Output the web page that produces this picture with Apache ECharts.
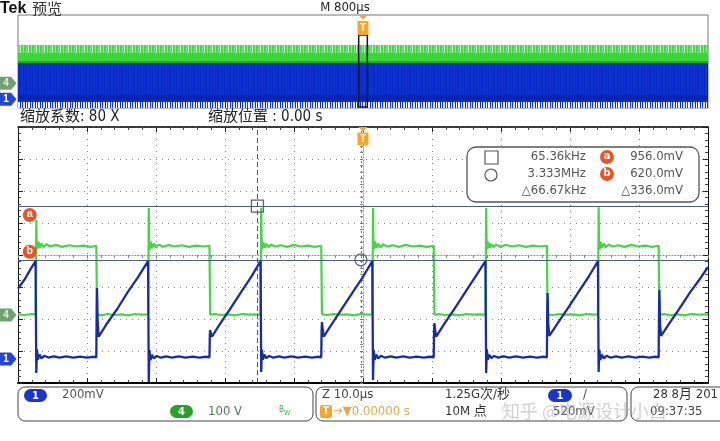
<!DOCTYPE html>
<html>
<head>
<meta charset="utf-8">
<script src="https://cdn.jsdelivr.net/npm/echarts/dist/echarts.min.js"></script>
<style>html,body{margin:0;padding:0;background:#fff}#c{width:720px;height:441px}</style>
</head>
<body>
<div id="c"></div>
<script>
// ---------------- DATA ----------------
// Channel 4 (green), volts, time in microseconds (zoomed view, 10 us/div)
const ch4Volts = [
 [-50, 2], [-49, 0], [-48, 3], [-47.45, 1],
 [-47.4, 120], [-47.35, 297], [-47.3, 236], [-47.2, 206], [-47.05, 230], [-46.85, 210], [-46.6, 224], [-46.3, 212], [-45.9, 221], [-45.3, 214], [-44.5, 219], [-43.6, 213], [-42.6, 218], [-41.5, 214], [-40.5, 217], [-39.5, 213], [-38.65, 216],
 [-38.6, 110], [-38.55, 2], [-38, -1], [-37, 3], [-36, 0], [-35, 2], [-34, -1], [-33, 3], [-32, 1], [-31.15, 2],
 [-31.1, 130], [-31.05, 334], [-31.0, 240], [-30.9, 204], [-30.75, 229], [-30.55, 209], [-30.3, 223], [-30.0, 211], [-29.6, 220], [-29.0, 213], [-28.2, 219], [-27.3, 214], [-26.3, 218], [-25.2, 213], [-24.2, 217], [-23.1, 214], [-22.25, 216],
 [-22.2, 100], [-22.15, 1], [-21.5, 3], [-20.5, 0], [-19.5, 2], [-18.5, -1], [-17.5, 3], [-16.5, 1], [-15.5, 2], [-14.85, 1],
 [-14.8, 140], [-14.75, 334], [-14.7, 238], [-14.6, 205], [-14.45, 228], [-14.25, 210], [-14.0, 222], [-13.7, 212], [-13.3, 220], [-12.7, 214], [-11.9, 218], [-11.0, 213], [-10.0, 219], [-9.0, 214], [-8.0, 217], [-7.0, 213], [-6.05, 216],
 [-6.0, 105], [-5.95, 2], [-5.3, 0], [-4.3, 3], [-3.3, 1], [-2.3, 2], [-1.3, -1], [-0.3, 3], [0.7, 1], [1.35, 2],
 [1.4, 130], [1.45, 334], [1.5, 241], [1.6, 206], [1.75, 230], [1.95, 209], [2.2, 223], [2.5, 211], [2.9, 221], [3.5, 214], [4.3, 218], [5.2, 213], [6.2, 219], [7.2, 214], [8.2, 217], [9.2, 213], [10.25, 216],
 [10.3, 100], [10.35, 1], [11, 3], [12, 0], [13, 2], [14, -1], [15, 3], [16, 1], [17, 2], [17.75, 1],
 [17.8, 140], [17.85, 334], [17.9, 237], [18.0, 205], [18.15, 229], [18.35, 210], [18.6, 222], [18.9, 212], [19.3, 220], [19.9, 213], [20.7, 219], [21.6, 214], [22.6, 218], [23.6, 213], [24.6, 217], [25.6, 214], [26.65, 216],
 [26.7, 105], [26.75, 2], [27.4, 0], [28.4, 3], [29.4, 1], [30.4, 2], [31.4, -1], [32.4, 3], [33.4, 1], [34.05, 2],
 [34.1, 135], [34.15, 337], [34.2, 239], [34.3, 205], [34.45, 228], [34.65, 210], [34.9, 223], [35.2, 212], [35.6, 220], [36.2, 214], [37.0, 218], [37.9, 213], [38.9, 219], [39.9, 214], [40.9, 217], [41.9, 213], [42.85, 216],
 [42.9, 100], [42.95, 1], [43.6, 3], [44.6, 0], [45.6, 2], [46.6, -1], [47.6, 3], [48.6, 1], [50, 2]
];
// Channel 1 (blue), millivolts
const ch1Millivolts = [
 [-50, 440], [-49, 500], [-48.2, 560], [-47.45, 612],
 [-47.4, 250], [-47.35, -87], [-47.25, 60], [-47.1, -5], [-46.9, 28], [-46.6, 4], [-46.2, 20], [-45.6, 9], [-44.8, 17], [-44.0, 8], [-43.0, 16], [-42.0, 9], [-41.0, 15], [-40.0, 8], [-39.2, 14], [-38.65, 11],
 [-38.6, 300], [-38.55, 444], [-38.45, 230], [-38.3, 140], [-37.1, 222], [-35.6, 314], [-34.1, 418], [-32.6, 512], [-31.15, 612],
 [-31.1, 250], [-31.05, -144], [-30.95, 55], [-30.8, -8], [-30.6, 26], [-30.3, 3], [-29.9, 19], [-29.3, 8], [-28.5, 17], [-27.7, 9], [-26.7, 16], [-25.7, 8], [-24.7, 15], [-23.7, 9], [-22.8, 14], [-22.25, 11],
 [-22.2, 150], [-22.15, 181], [-22.05, 160], [-21.9, 140], [-20.7, 221], [-19.2, 316], [-17.7, 417], [-16.2, 513], [-14.85, 612],
 [-14.8, 250], [-14.75, -81], [-14.65, 58], [-14.5, -4], [-14.3, 27], [-14.0, 5], [-13.6, 19], [-13.0, 9], [-12.2, 17], [-11.4, 8], [-10.4, 16], [-9.4, 9], [-8.4, 15], [-7.4, 8], [-6.6, 14], [-6.05, 11],
 [-6.0, 180], [-5.95, 231], [-5.85, 190], [-5.7, 140], [-4.5, 220], [-3.0, 318], [-1.5, 416], [0.0, 514], [1.35, 612],
 [1.4, 250], [1.45, -131], [1.55, 57], [1.7, -6], [1.9, 27], [2.2, 4], [2.6, 20], [3.2, 8], [4.0, 17], [4.8, 9], [5.8, 16], [6.8, 8], [7.8, 15], [8.8, 9], [9.7, 14], [10.25, 11],
 [10.3, 180], [10.35, 225], [10.45, 185], [10.6, 140], [11.8, 221], [13.3, 317], [14.8, 416], [16.3, 515], [17.75, 612],
 [17.8, 250], [17.85, -87], [17.95, 60], [18.1, -5], [18.3, 26], [18.6, 5], [19.0, 19], [19.6, 9], [20.4, 17], [21.2, 8], [22.2, 16], [23.2, 9], [24.2, 15], [25.2, 8], [26.1, 14], [26.65, 11],
 [26.7, 300], [26.75, 412], [26.85, 220], [27.0, 145], [28.2, 222], [29.7, 318], [31.2, 417], [32.7, 514], [34.05, 612],
 [34.1, 250], [34.15, -81], [34.25, 58], [34.4, -6], [34.6, 27], [34.9, 4], [35.3, 20], [35.9, 8], [36.7, 17], [37.5, 9], [38.5, 16], [39.5, 8], [40.5, 15], [41.5, 9], [42.3, 14], [42.85, 11],
 [42.9, 300], [42.95, 431], [43.05, 220], [43.2, 145], [44.4, 222], [45.9, 318], [47.4, 416], [48.9, 505], [50, 575]
];
// Cursors
const cursorTimesUs = [-15.3, -0.3];
const cursorLevelsMv = [956.0, 620.0];
// Overview (80x compressed record) envelope levels
const overviewGreenLevelsV = [330, 261, 192, 0];
const overviewBlueLevelsMv = [624, 74, -12, -46, -150];
const overviewSpanUs = [-4000, 4000];
const zoomWindowUs = [-50, 50];
const zoomWindowV = [-204, 415];
// Header / status bar texts
const headerTexts = { brand: 'Tek', mode: '预览', record: 'M 800µs', zoomFactor: '缩放系数: 80 X', zoomPos: '缩放位置 : 0.00 s' };
const statusTexts = { ch1: '200mV', ch4: '100 V', timebase: 'Z 10.0µs', trigPos: '→▼0.00000 s', rate: '1.25G次/秒', points: '10M 点', trigLevel: '520mV', date: '28 8月 201', time: '09:37:35' };

// ---------------- helpers ----------------
const narrow = "'Liberation Sans Narrow','DejaVu Sans Condensed','Noto Sans CJK SC',sans-serif";
const cjk = "'Noto Sans CJK SC',sans-serif";
function stripes(colors, widths) {
  const c = document.createElement('canvas');
  c.width = widths.reduce((a, b) => a + b, 0); c.height = 4;
  const g = c.getContext('2d'); let x = 0;
  colors.forEach((col, i) => { g.fillStyle = col; g.fillRect(x, 0, widths[i], 4); x += widths[i]; });
  return { image: c, repeat: 'repeat' };
}
const greenTopPat = stripes(['#3fdc3f', '#8fe48f', '#3fdc3f', '#cdf2cd', '#44d844', '#a6eaa6'], [2, 1, 1, 1, 2, 1]);
const bluePat = stripes(['#0c2fd2', '#0a28b8', '#0d33d8', '#0b2ac0'], [2, 1, 2, 1]);
const grassPat = stripes(['#0c2fd2', '#ffffff', '#1a3ad0', '#f0f3ff'], [1, 1, 1, 2]);
function fmtFreq(tUs) { const khz = 1000 / Math.abs(tUs); return khz >= 1000 ? (khz / 1000).toFixed(3) + 'MHz' : khz.toFixed(2) + 'kHz'; }

const tPath = 'path://M1,0 L11,0 L6,5 Z M0,6 L12,6 L12,20 L0,20 Z';
const tagPath = 'path://M0,0 L11,0 L16,6 L11,12 L0,12 Z';
function tMarker(coord, offY, h) {
  return { coord, symbol: tPath, symbolSize: [11, h], symbolOffset: [0, offY],
    itemStyle: { color: '#f0a830' },
    label: { show: true, formatter: 'T', color: '#fff3c0', fontSize: 10, fontWeight: 'bold', offset: [0, 3] } };
}
function chTag(coord, text, color, txtColor) {
  return { coord, symbol: tagPath, symbolSize: [17, 13], symbolOffset: [-10, 0],
    itemStyle: { color },
    label: { show: true, formatter: text, color: txtColor, fontSize: 10, fontWeight: 'bold', offset: [-2, 0] } };
}
function badge(coord, text, offY) {
  return { coord, symbol: 'circle', symbolSize: 14, symbolOffset: [0, offY],
    itemStyle: { color: '#e2582a' },
    label: { show: true, formatter: text, color: '#fff', fontSize: 11, fontWeight: 'bold', offset: [0, -1] } };
}
const hidden = { show: false };

const borderAxisCommon = {
  type: 'value', gridIndex: 1,
  axisLabel: hidden,
  axisTick: { show: true, inside: true, length: 5, lineStyle: { color: '#222' } },
  minorTick: { show: true, splitNumber: 5, length: 3, lineStyle: { color: '#444' } }
};

const option = {
  animation: false,
  backgroundColor: '#ffffff',
  grid: [
    { left: 18, top: 15, width: 690, height: 93, show: true, borderColor: '#777', borderWidth: 1 },
    { left: 18, top: 127, width: 690, height: 256 }
  ],
  xAxis: [
    { type: 'value', gridIndex: 0, min: overviewSpanUs[0], max: overviewSpanUs[1], show: false, axisLine: { onZero: false } },
    Object.assign({}, borderAxisCommon, { min: -50, max: 50, interval: 10, position: 'bottom',
      axisLine: { show: true, onZero: false, lineStyle: { color: '#000', width: 2 } },
      splitLine: { show: true, lineStyle: { color: '#8a8a8a', type: [1, 5], width: 1 } } }),
    Object.assign({}, borderAxisCommon, { min: -50, max: 50, interval: 10, position: 'top',
      axisLine: { show: true, onZero: false, lineStyle: { color: '#000', width: 1.5 } },
      splitLine: hidden }),
    { type: 'value', gridIndex: 1, min: -50, max: 50, interval: 10, position: 'bottom',
      axisLine: { show: true, onZero: true, onZeroAxisIndex: 4, lineStyle: { color: '#888', type: [1, 2] } },
      axisTick: { show: true, length: 3, lineStyle: { color: '#777' } },
      minorTick: { show: true, splitNumber: 5, length: 3, lineStyle: { color: '#888' } },
      axisLabel: hidden, splitLine: hidden }
  ],
  yAxis: [
    { type: 'value', gridIndex: 0, min: -212.5, max: 587.5, show: false, axisLine: { onZero: false } },
    { type: 'value', gridIndex: 0, min: -150, max: 1450, show: false, axisLine: { onZero: false } },
    { type: 'value', gridIndex: 1, min: -212.5, max: 587.5, show: false, axisLine: { onZero: false }, splitLine: hidden },
    { type: 'value', gridIndex: 1, min: -150, max: 1450, show: false, axisLine: { onZero: false }, splitLine: hidden },
    Object.assign({}, borderAxisCommon, { min: -4, max: 4, interval: 1, position: 'left',
      axisLine: { show: true, onZero: false, lineStyle: { color: '#111', width: 1 } },
      splitLine: { show: true, lineStyle: { color: '#8a8a8a', type: [1, 5], width: 1 } } }),
    Object.assign({}, borderAxisCommon, { min: -4, max: 4, interval: 1, position: 'right',
      axisLine: { show: true, onZero: false, lineStyle: { color: '#111', width: 1 } },
      splitLine: hidden }),
    { type: 'value', gridIndex: 1, min: -4, max: 4, interval: 1, position: 'left',
      axisLine: { show: true, onZero: true, onZeroAxisIndex: 1, lineStyle: { color: '#888', type: [1, 2] } },
      axisTick: { show: true, length: 3, lineStyle: { color: '#777' } },
      minorTick: { show: true, splitNumber: 5, length: 3, lineStyle: { color: '#888' } },
      axisLabel: hidden, splitLine: hidden }
  ],
  series: [
    // overview: green envelope
    { type: 'line', xAxisIndex: 0, yAxisIndex: 0, data: [], clip: false, silent: true,
      markArea: { silent: true, z: 1, data: [
        [{ xAxis: overviewSpanUs[0], yAxis: overviewGreenLevelsV[1], itemStyle: { color: greenTopPat } }, { xAxis: overviewSpanUs[1], yAxis: overviewGreenLevelsV[0] }],
        [{ xAxis: overviewSpanUs[0], yAxis: overviewGreenLevelsV[2], itemStyle: { color: '#3ad63a' } }, { xAxis: overviewSpanUs[1], yAxis: overviewGreenLevelsV[1] }],
        [{ xAxis: overviewSpanUs[0], yAxis: overviewGreenLevelsV[3], itemStyle: { color: '#28a628' } }, { xAxis: overviewSpanUs[1], yAxis: overviewGreenLevelsV[2] }]
      ] },
      markPoint: { silent: true, z: 6, data: [chTag([overviewSpanUs[0], 0], '4', '#72a072', '#dfeedf')] } },
    // overview: blue envelope
    { type: 'line', xAxisIndex: 0, yAxisIndex: 1, data: [], clip: false, silent: true,
      markArea: { silent: true, z: 2, data: [
        [{ xAxis: overviewSpanUs[0], yAxis: overviewBlueLevelsMv[1], itemStyle: { color: bluePat } }, { xAxis: overviewSpanUs[1], yAxis: overviewBlueLevelsMv[0] }],
        [{ xAxis: overviewSpanUs[0], yAxis: overviewBlueLevelsMv[2], itemStyle: { color: '#0a24ac' } }, { xAxis: overviewSpanUs[1], yAxis: overviewBlueLevelsMv[1] }],
        [{ xAxis: overviewSpanUs[0], yAxis: overviewBlueLevelsMv[3], itemStyle: { color: '#0c2fd2' } }, { xAxis: overviewSpanUs[1], yAxis: overviewBlueLevelsMv[2] }],
        [{ xAxis: overviewSpanUs[0], yAxis: overviewBlueLevelsMv[4], itemStyle: { color: grassPat } }, { xAxis: overviewSpanUs[1], yAxis: overviewBlueLevelsMv[3] }]
      ] },
      markPoint: { silent: true, z: 6, data: [chTag([overviewSpanUs[0], 0], '1', '#2446d6', '#ffffff')] } },
    // overview: zoom window + trigger marker
    { type: 'line', xAxisIndex: 0, yAxisIndex: 0, data: [], clip: false, silent: true, z: 5,
      markArea: { silent: true, z: 4, data: [
        [{ xAxis: zoomWindowUs[0], yAxis: zoomWindowV[0], itemStyle: { color: 'rgba(0,0,0,0)', borderColor: '#141438', borderWidth: 1.5 } }, { xAxis: zoomWindowUs[1], yAxis: zoomWindowV[1] }]
      ] },
      markPoint: { silent: true, z: 7, data: [tMarker([0, 587.5], 10, 20)] } },
    // main: channel 4 (green)
    { name: 'CH4', type: 'line', xAxisIndex: 1, yAxisIndex: 2, data: ch4Volts, symbol: 'none', clip: false, z: 3,
      lineStyle: { color: '#48d448', width: 2.2 }, itemStyle: { color: '#48d448' },
      markPoint: { silent: true, z: 6, data: [tMarker([0, 587.5], 9, 18), chTag([-50, 0], '4', '#72a072', '#dfeedf')] } },
    // main: channel 1 (blue)
    { name: 'CH1', type: 'line', xAxisIndex: 1, yAxisIndex: 3, data: ch1Millivolts, symbol: 'none', clip: false, z: 4,
      lineStyle: { color: '#1b2d9e', width: 2.3 }, itemStyle: { color: '#1b2d9e' },
      markLine: { silent: true, symbol: 'none', z: 5, label: hidden,
        data: [
          { yAxis: cursorLevelsMv[0], lineStyle: { color: '#4f5c78', width: 1, type: 'solid' } },
          { yAxis: cursorLevelsMv[1], lineStyle: { color: '#4f5c78', width: 1, type: 'solid' } },
          { xAxis: cursorTimesUs[0], lineStyle: { color: '#555', width: 1, type: [5, 3] } },
          { xAxis: cursorTimesUs[1], lineStyle: { color: '#777', width: 1, type: [2, 3] } }
        ] },
      markPoint: { silent: true, z: 7, data: [
        { coord: [cursorTimesUs[0], cursorLevelsMv[0]], symbol: 'rect', symbolSize: 12, itemStyle: { color: 'rgba(255,255,255,0)', borderColor: '#5a6274', borderWidth: 1.3 }, label: hidden },
        { coord: [cursorTimesUs[1], cursorLevelsMv[1]], symbol: 'circle', symbolSize: 12, itemStyle: { color: 'rgba(255,255,255,0)', borderColor: '#5a6274', borderWidth: 1.3 }, label: hidden },
        badge([-48.3, cursorLevelsMv[0]], 'a', 9),
        badge([-48.3, cursorLevelsMv[1]], 'b', -8),
        chTag([-50, 0], '1', '#2446d6', '#ffffff')
      ] } }
  ],
  graphic: { elements: [] }
};

// ---------------- readouts / status (text chrome) ----------------
const g = option.graphic.elements;
function txt(x, y, text, font, fill, align) {
  g.push({ type: 'text', x, y, silent: true, z: 10, style: { text, font, fill, align: align || 'left', verticalAlign: 'middle' } });
}
function rrect(x, y, w, h, r, fill, stroke, lw) {
  g.push({ type: 'rect', silent: true, z: 9, shape: { x, y, width: w, height: h, r }, style: { fill, stroke, lineWidth: lw || 1 } });
}
function pill(x, y, w, h, color, label, lc) {
  rrect(x, y, w, h, h / 2, color, null, 0);
  txt(x + w / 2, y + h / 2 + 0.5, label, 'bold 11px ' + narrow, lc || '#fff', 'center');
}
// header
txt(0, 9, headerTexts.brand, 'bold 16px "Liberation Sans",Arial,sans-serif', '#111');
txt(32, 8, headerTexts.mode, '15px ' + cjk, '#333');
txt(345, 8, headerTexts.record, '13px ' + narrow, '#222', 'center');
txt(20, 117, headerTexts.zoomFactor, '15px ' + narrow, '#222');
txt(208, 117, headerTexts.zoomPos, '15px ' + narrow, '#222');

// measurement readout box
const dV = Math.abs(cursorLevelsMv[0] - cursorLevelsMv[1]);
rrect(467, 147, 232, 55, 9, '#ffffff', '#555', 1.3);
g.push({ type: 'rect', silent: true, z: 10, shape: { x: 485, y: 151, width: 13, height: 13 }, style: { fill: 'none', stroke: '#555', lineWidth: 1.2 } });
g.push({ type: 'circle', silent: true, z: 10, shape: { cx: 491, cy: 175, r: 6 }, style: { fill: 'none', stroke: '#555', lineWidth: 1.2 } });
txt(586, 157, fmtFreq(cursorTimesUs[0]), '13px ' + narrow, '#555', 'right');
txt(586, 174, fmtFreq(cursorTimesUs[1]), '13px ' + narrow, '#555', 'right');
txt(586, 191, '△' + fmtFreq(cursorTimesUs[1] - cursorTimesUs[0]), '13px ' + narrow, '#555', 'right');
g.push({ type: 'circle', silent: true, z: 10, shape: { cx: 607, cy: 157, r: 7 }, style: { fill: '#e2582a' } });
g.push({ type: 'circle', silent: true, z: 10, shape: { cx: 607, cy: 174, r: 7 }, style: { fill: '#e2582a' } });
txt(607, 156, 'a', 'bold 11px ' + narrow, '#fff', 'center');
txt(607, 173, 'b', 'bold 11px ' + narrow, '#fff', 'center');
txt(683, 157, cursorLevelsMv[0].toFixed(1) + 'mV', '13px ' + narrow, '#555', 'right');
txt(683, 174, cursorLevelsMv[1].toFixed(1) + 'mV', '13px ' + narrow, '#555', 'right');
txt(683, 191, '△' + dV.toFixed(1) + 'mV', '13px ' + narrow, '#555', 'right');

// status bar
rrect(18, 387, 295, 34, 7, '#ffffff', '#444', 1);
rrect(316, 387, 311, 34, 7, '#ffffff', '#444', 1);
rrect(631, 387, 110, 34, 7, '#ffffff', '#444', 1);
pill(24, 389, 23, 13, '#1a35c8', '1');
txt(62, 395, statusTexts.ch1, '13px ' + narrow, '#555');
pill(170, 405, 23, 13, '#26a326', '4');
txt(208, 412, statusTexts.ch4, '13px ' + narrow, '#4f7f4f');
txt(279, 410, 'B', '8px ' + narrow, '#4f9f4f');
txt(284, 413, 'W', '7px ' + narrow, '#4f9f4f');
txt(322, 395, statusTexts.timebase, '13px ' + narrow, '#444');
rrect(320, 405, 12, 13, 2, '#efa833', null, 0);
txt(326, 411.5, 'T', 'bold 10px ' + narrow, '#fff3c0', 'center');
txt(333, 412, statusTexts.trigPos, '13px ' + narrow, '#e0a850');
txt(445, 395, statusTexts.rate, '13px ' + narrow, '#333');
txt(445, 412, statusTexts.points, '13px ' + narrow, '#333');
pill(548, 389, 24, 13, '#1a35c8', '1');
txt(583, 395, '/', '13px ' + narrow, '#444');
txt(553, 412, statusTexts.trigLevel, '13px ' + narrow, '#555');
txt(653, 395, statusTexts.date, '13px ' + narrow, '#333');
txt(650, 412, statusTexts.time, '13px ' + narrow, '#444');
// watermark
txt(502, 411, '知乎 @电源设计小白', '18px ' + cjk, 'rgba(170,170,175,0.55)');

const chart = echarts.init(document.getElementById('c'), null, { renderer: 'canvas', width: 720, height: 441 });
chart.setOption(option);
</script>
</body>
</html>
